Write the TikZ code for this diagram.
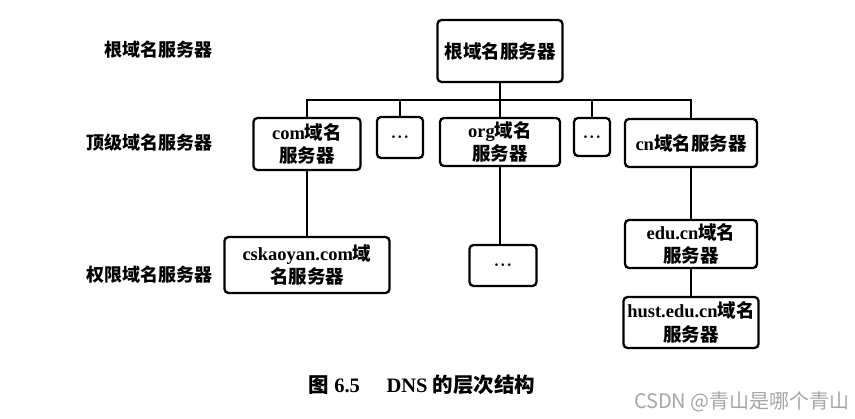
\documentclass[tikz,border=0pt]{standalone}
\usepackage{fontspec}
\setmainfont{Liberation Serif}
\newfontfamily\zhfont{Noto Sans CJK SC}
\newfontfamily\wmfont{Noto Sans CJK SC}
\newcommand{\zh}[1]{{\zhfont #1}}
\newcommand{\dotsx}{\textbf{\fontsize{16}{16}\selectfont$\boldsymbol{\cdot}\!\boldsymbol{\cdot}\!\boldsymbol{\cdot}$}}
\usepackage{amsmath,amssymb}
\begin{document}
\begin{tikzpicture}[x=1pt,y=-1pt,
  box/.style={draw=black, line width=2.3pt, rounded corners=4pt, align=center,
    inner sep=0pt, font=\fontsize{18.5}{23.5}\selectfont\bfseries},
  conn/.style={draw=black, line width=1.6pt},
  lvl/.style={anchor=east, inner sep=0pt, font=\fontsize{18}{22}\selectfont\bfseries}]
\useasboundingbox (0,0) rectangle (855,419);
% level labels
\node[lvl] (l1) at (213,50) {\zh{根域名服务器}};
\node[lvl] (l2) at (213,143) {\zh{顶级域名服务器}};
\node[lvl] (l3) at (213,275) {\zh{权限域名服务器}};
% boxes
\node[box, minimum width=125pt, minimum height=62pt] (root) at (500,51) {\zh{根域名服务器}};
\node[box, minimum width=107pt, minimum height=52pt] (com) at (307,144) {com\zh{域名}\\\zh{服务器}};
\node[box, minimum width=46pt, minimum height=41pt] (d1) at (400,137.5) {\dotsx};
\node[box, minimum width=120pt, minimum height=48pt] (org) at (500,142) {org\zh{域名}\\\zh{服务器}};
\node[box, minimum width=36pt, minimum height=38pt] (d2) at (592,137) {\dotsx};
\node[box, minimum width=132pt, minimum height=48pt] (cn) at (691,143) {cn\zh{域名服务器}};
\node[box, minimum width=165pt, minimum height=56pt] (csk) at (307,265) {cskaoyan.com\zh{域}\\\zh{名服务器}};
\node[box, minimum width=67pt, minimum height=41pt] (d3) at (503,265.5) {\dotsx};
\node[box, minimum width=132pt, minimum height=48pt] (edu) at (691,244) {edu.cn\zh{域名}\\\zh{服务器}};
\node[box, minimum width=135pt, minimum height=51pt] (hust) at (691,322.5) {hust.edu.cn\zh{域名}\\\zh{服务器}};
% bus
\coordinate (bus) at (500,100);
\draw[conn] (root.south) -- (bus);
\draw[conn] (com.north) |- (bus) -| (cn.north);
\draw[conn] (d1.north) -- (d1.north |- bus);
\draw[conn] (org.north) -- (bus);
\draw[conn] (d2.north) -- (d2.north |- bus);
\draw[conn] (com.south) -- (csk.north);
\draw[conn] (org.south) -- (org.south |- d3.north);
\draw[conn] (cn.south) -- (edu.north);
\draw[conn] (edu.south) -- (hust.north);
% caption
\node[inner sep=0pt, font=\fontsize{20.5}{24}\selectfont\bfseries] (cap) at (422,385)
  {\zh{图} 6.5\hspace{1.3em}DNS \zh{的层次结构}};
\node[anchor=east, inner sep=0pt, text=black!35, font=\wmfont\fontsize{20}{22}\selectfont] (wm) at (850,402)
  {CSDN @青山是哪个青山};
\end{tikzpicture}
\end{document}
